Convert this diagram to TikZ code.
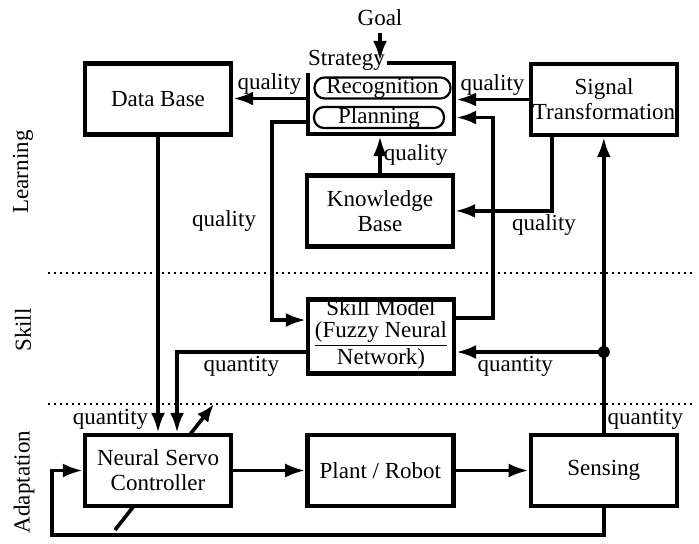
\documentclass[tikz,border=0pt]{standalone}
\usepackage{fontspec}
\setmainfont{Liberation Serif}
\usetikzlibrary{positioning}
\usetikzlibrary{arrows.meta}

\tikzset{
    blk/.style={draw, line width=2.2pt, fill=white, minimum width=73pt, minimum height=35.5pt, align=center, inner sep=1pt, font=\fontsize{11.5}{12.5}\selectfont},
    pill/.style={draw, line width=1.1pt, rounded corners=5pt, minimum height=10.5pt, inner sep=0pt},
    conn/.style={line width=1.8pt, -{Latex[length=10pt,width=7pt]}},
    tag/.style={inner sep=1pt},
}

\begin{document}
\begin{tikzpicture}[x=0.5pt, y=-0.5pt, font=\fontsize{11.5}{12.5}\selectfont]
    \useasboundingbox (0,0) rectangle (699,543);

    % layer separators
    \draw[dotted, line width=1pt] (48,273) -- (692,273);
    \draw[dotted, line width=1pt] (48,404) -- (692,404);

    \node[rotate=90] (learn) at (23,172) {Learning};
    \node[rotate=90] (skl) at (23,330) {Skill};
    \node[rotate=90] (adapt) at (24,482) {Adaptation};

    % adaptation arrow, passes behind the controller
    \coordinate (adin) at (115,530);
    \coordinate (adout) at (214,404);
    \draw[conn, -{Latex[length=9pt,width=7pt]}] (adin) -- (adout);

    \node[blk] (db) at (158,99) {Data Base};
    \node[blk] (strat) at (381,98.5) {};
    \node[blk] (sig) at (604,99.5) {Signal\\Transformation};
    \node[blk, below=18.5pt of strat.south, anchor=north, xshift=-0.5pt] (kb) {Knowledge\\Base};
    \node[blk, font=\fontsize{11.5}{11}\selectfont, inner sep=0pt] (skill) at (381,336.5) {Skill Model\\\underline{(Fuzzy Neural}\\\underline{Network)}};
    \node[blk] (nsc) at (158,470.5) {Neural Servo\\Controller};
    \node[blk, right=36pt of nsc] (plant) {Plant / Robot};
    \node[blk, right=36.5pt of plant] (sens) {Sensing};

    \node[pill, minimum width=68pt] (rec) at (382.5,88) {Recognition};
    \node[pill, minimum width=65pt] (plan) at (379,117.5) {Planning};
    \node[tag, anchor=west, fill=white] (stratlbl) at (strat.north west) {Strategy};

    \node (goal) at (380,18) {Goal};
    \draw[conn] (goal.south) -- (goal.south |- strat.north);

    % learning level
    \draw[conn] (strat.west) -- node[tag, above] {quality} (strat.west -| db.east);
    \draw[conn] (sig.west) -- node[tag, above] {quality} (sig.west -| strat.east);
    \draw[conn] ([xshift=-26pt]sig.south) |- node[tag, pos=0.5, below, xshift=-4pt] {quality} (kb.east);
    \draw[conn] (kb.north) -- node[tag, right] {quality} (kb.north |- strat.south);
    \draw[conn] ([yshift=9.25pt]skill.east) -- ++(37,0) |- (plan.east -| strat.east);
    \draw[conn] ([yshift=-11.75pt]strat.west) -- ++(-34,0) |- node[tag, pos=0.25, left=6pt] {quality} ([yshift=8.25pt]skill.west);

    % skill and adaptation levels
    \draw[conn] (db.south) -- node[tag, pos=1, anchor=south east, xshift=-3pt] {quantity} (db.south |- nsc.north);
    \draw[conn] ([yshift=-7.75pt]skill.west) -| node[tag, pos=0.25, below] {quantity} ([xshift=9.5pt]nsc.north);
    \draw[conn] (nsc.east) -- (plant.west);
    \draw[conn] (plant.east) -- (sens.west);
    \draw[conn] (sens.north) -- node[tag, pos=0, anchor=south west] {quantity} (sens.north |- sig.south);
    \coordinate (tap) at ([yshift=-7.75pt]skill.east -| sens.north);
    \fill (tap) circle (3pt);
    \draw[conn] (tap) -- node[tag, pos=0.6, below] {quantity} (tap -| skill.east);
    \draw[conn] (sens.south) -- ++(0,27) -| ([xshift=-15.5pt]nsc.west) -- (nsc.west);
\end{tikzpicture}
\end{document}
